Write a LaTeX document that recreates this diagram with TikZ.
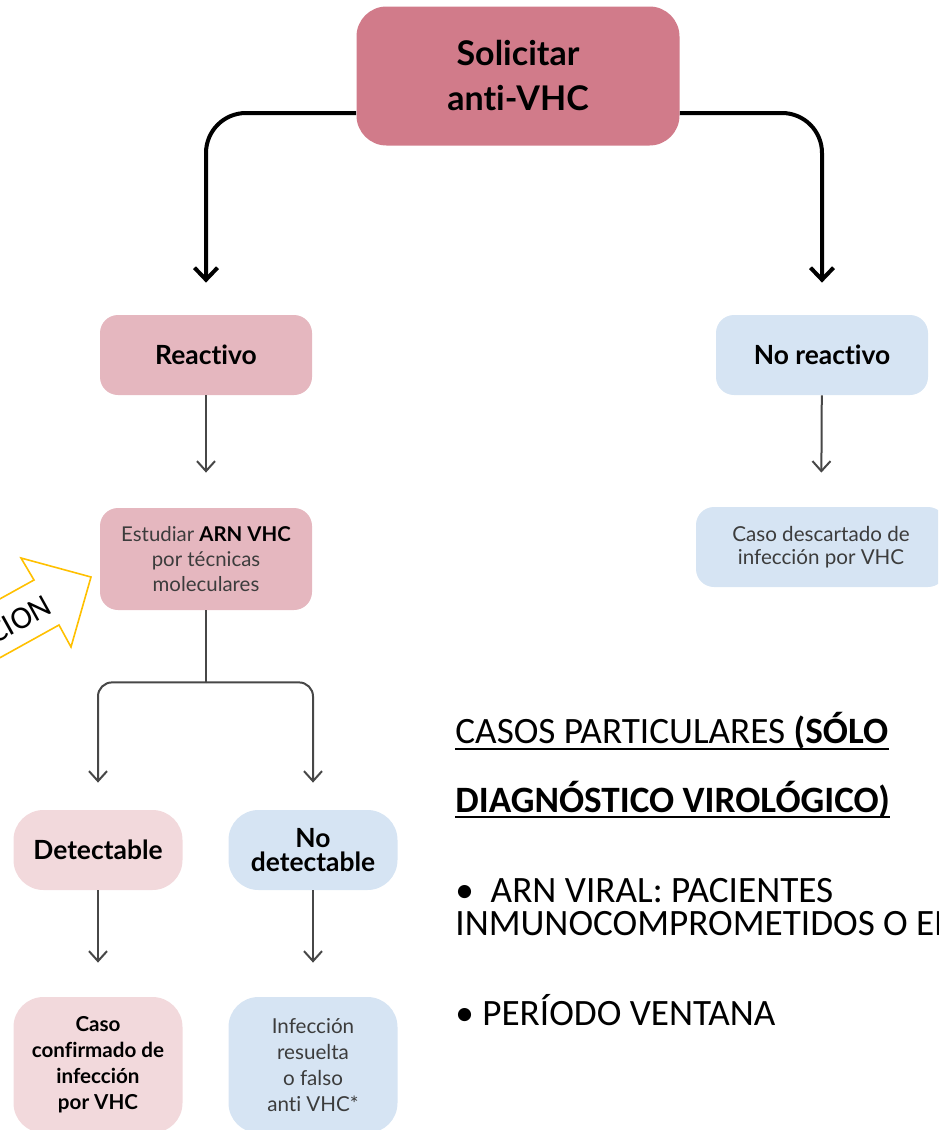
\documentclass[tikz,border=0pt]{standalone}
\usepackage{fontspec}
\setmainfont{Lato}[Ligatures={NoCommon}]
\newfontfamily\calibri{Carlito}
\usetikzlibrary{arrows.meta}
\definecolor{rosaosc}{RGB}{209,123,138}
\definecolor{rosa}{RGB}{229,183,191}
\definecolor{rosaclaro}{RGB}{242,217,220}
\definecolor{azulclaro}{RGB}{214,228,243}
\definecolor{amarillo}{RGB}{255,192,0}
\definecolor{gristxt}{RGB}{60,60,60}

\begin{document}
\begin{tikzpicture}[x=0.5pt, y=-0.5pt,
    caja/.style={rounded corners=9pt, align=center, inner sep=0pt},
    flechagruesa/.style={line width=2pt, -{Straight Barb[length=6pt,width=11.5pt]},
        rounded corners=20pt, shorten >=16pt},
    flechafina/.style={line width=1pt, draw=black!72, -{Straight Barb[length=5pt,width=9pt]}},
    texto/.style={font=\calibri\fontsize{18.6}{22}\selectfont, inner sep=0pt, anchor=base west},
  ]
    % 1. marco
    \useasboundingbox (0,0) rectangle (938,1130);
    \clip (0,0) rectangle (938,1130);

    % 2. cajas
    \node[caja, fill=rosaosc, rounded corners=15pt, minimum width=161.5pt, minimum height=69.5pt,
        font=\fontsize{17}{22.5}\selectfont\bfseries] (sol) at (518,76) {Solicitar\\anti-VHC};
    \node[caja, fill=rosa, minimum width=106pt, minimum height=40pt,
        font=\fontsize{13.2}{14}\selectfont\bfseries] (rea) at (206,355) {Reactivo};
    \node[caja, fill=azulclaro, minimum width=106pt, minimum height=40pt,
        font=\fontsize{13.2}{14}\selectfont\bfseries] (norea) at (822,355) {No reactivo};
    \node[caja, fill=rosa, minimum width=106pt, minimum height=51pt, text=gristxt,
        font=\fontsize{10.2}{12.5}\selectfont] (est) at (206,559)
        {Estudiar \textcolor{black}{\bfseries ARN VHC}\\por técnicas\\moleculares};
    \node[caja, fill=azulclaro, minimum width=125pt, minimum height=40pt, text=gristxt,
        font=\fontsize{10.3}{11.7}\selectfont] (desc) at (821,547)
        {Caso descartado de\\infección por VHC};
    \node[caja, fill=rosaclaro, rounded corners=15pt, minimum width=84.5pt, minimum height=40pt,
        font=\fontsize{13.2}{12}\selectfont\bfseries] (det) at (98,850) {Detectable};
    \node[caja, fill=azulclaro, rounded corners=15pt, minimum width=84.5pt, minimum height=40pt,
        font=\fontsize{13.2}{12}\selectfont\bfseries] (nodet) at (313,850) {No\\detectable};
    \node[caja, fill=rosaclaro, rounded corners=15pt, minimum width=84.5pt, minimum height=68pt,
        font=\fontsize{10.3}{13}\selectfont\bfseries] (conf) at (98,1065)
        {Caso\\confirmado de\\infección\\por VHC};
    \node[caja, fill=azulclaro, rounded corners=15pt, minimum width=84.5pt, minimum height=68pt,
        text=gristxt, font=\fontsize{10.3}{13}\selectfont] (res) at (313,1065)
        {Infección\\resuelta\\o falso\\anti VHC*};

    % 3. flechas
    \draw[flechagruesa] ([yshift=-18.5pt]sol.west) -| (rea.north);
    \draw[flechagruesa] ([yshift=-18.5pt]sol.east) -| (norea.north);
    \draw[flechafina, shorten >=17.5pt] (rea) -- (est);
    \draw[flechafina, shorten >=17pt] (norea) -- (desc);
    \coordinate (div) at ([yshift=-36pt]est.south);
    \draw[line width=1pt, draw=black!72] (est.south) -- (div);
    \draw[flechafina, rounded corners=7pt, shorten >=13.5pt] (div) -| (det.north);
    \draw[flechafina, rounded corners=7pt, shorten >=13.5pt] (div) -| (nodet.north);
    \draw[flechafina, shorten >=17pt] (det) -- (conf);
    \draw[flechafina, shorten >=17pt] (nodet) -- (res);

    % 4. flecha amarilla
    \draw[amarillo, line width=0.8pt, fill=white]
        (91,577) -- (21,558) -- (34,580) -- (-141,677) -- (-116,722) -- (59,625) -- (71,647) -- cycle;
    \node[rotate=29, anchor=east, inner sep=0pt, font=\calibri\fontsize{16}{16}\selectfont]
        (conf2) at (49,603) {CONFIRMACION};

    % 5. casos particulares
    \node[texto] (cas1) at (455,743) {CASOS PARTICULARES \textbf{(SÓLO}};
    \node[texto] (cas2) at (455,812) {\textbf{DIAGNÓSTICO VIROLÓGICO)}};
    \draw[line width=1pt] ([yshift=-3pt]cas1.base west) -- ([yshift=-3pt]cas1.base east);
    \draw[line width=1pt] ([yshift=-2.5pt]cas2.base west) -- ([yshift=-2.5pt]cas2.base east);
    \node[texto] (bul1) at (455,902) {•\ \ ARN VIRAL: PACIENTES};
    \node[texto] (bul2) at (455,935) {INMUNOCOMPROMETIDOS O EN};
    \node[texto] (bul3) at (455,1025) {• PERÍODO VENTANA};
\end{tikzpicture}
\end{document}
